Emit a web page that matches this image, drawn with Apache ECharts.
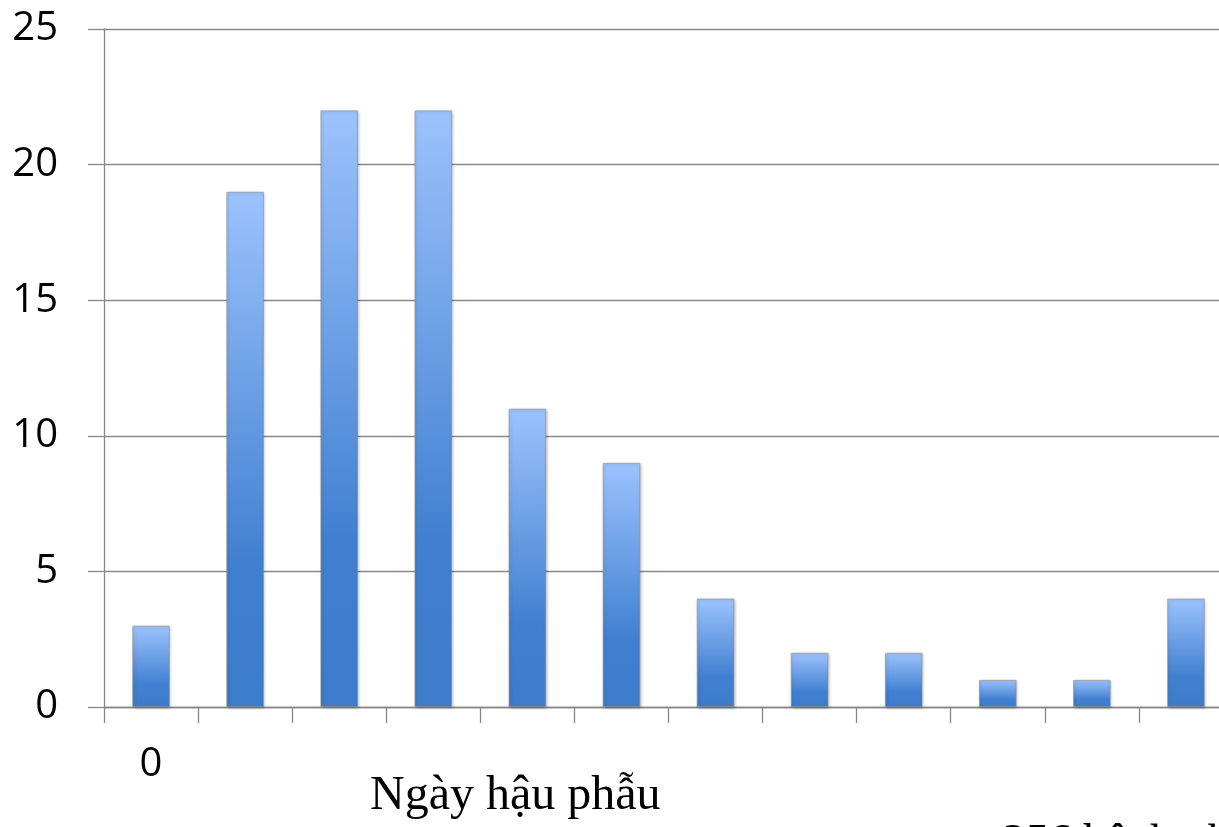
<!DOCTYPE html>
<html>
<head>
<meta charset="utf-8">
<script src="https://cdn.jsdelivr.net/npm/echarts@6/dist/echarts.min.js"></script>
<style>
html,body{margin:0;padding:0;background:#fff;}
#chart{width:1219px;height:827px;}
</style>
</head>
<body>
<div id="chart"></div>
<script>
const categories = ['0','','','','','','','','','','',''];
const values = [3,19,22,22,11,9,4,2,2,1,1,4];
const yTicks = [0,5,10,15,20,25];
const xTitle = 'Ngày hậu phẫu';
const noteText = '256 bệnh nhân';

const chart = echarts.init(document.getElementById('chart'));
const lineColor = '#888888';
const barGradient = new echarts.graphic.LinearGradient(0,0,0,1,[
  {offset:0,color:'#9cc3fd'},
  {offset:0.72,color:'#4180d0'},
  {offset:1,color:'#3d7bcb'}
]);
chart.setOption({
  animation:false,
  grid:{left:104,top:29,width:1129,bottom:120,containLabel:false,outerBoundsMode:'none'},
  xAxis:{
    type:'category',
    data:categories,
    axisLine:{lineStyle:{color:lineColor,width:1.3}},
    axisTick:{show:true,length:16,lineStyle:{color:lineColor,width:1.3}},
    axisLabel:{color:'#000',fontSize:40,fontFamily:'Open Sans',margin:38}
  },
  yAxis:{
    type:'value',
    min:yTicks[0],max:yTicks[yTicks.length-1],interval:5,
    axisLine:{show:true,lineStyle:{color:lineColor,width:1.3}},
    axisTick:{show:true,length:16,lineStyle:{color:lineColor,width:1.3}},
    splitLine:{lineStyle:{color:lineColor,width:1.3}},
    axisLabel:{color:'#000',fontSize:40,fontFamily:'Open Sans',margin:46}
  },
  series:[{
    type:'bar',
    data:values,
    barWidth:'40%',
    itemStyle:{
      color:barGradient,
      borderColor:'rgba(140,140,140,0.6)',
      borderWidth:1,
      shadowBlur:3,
      shadowColor:'rgba(0,0,0,0.25)',
      shadowOffsetX:1,
      shadowOffsetY:1
    }
  }],
  graphic:[
    {type:'text',left:370,top:772,style:{text:xTitle,font:'48px "Liberation Serif"',fill:'#000'}},
    {type:'text',left:1003,top:821,style:{text:noteText,font:'46px "Liberation Serif"',fill:'#000'}}
  ]
});
</script>
</body>
</html>
